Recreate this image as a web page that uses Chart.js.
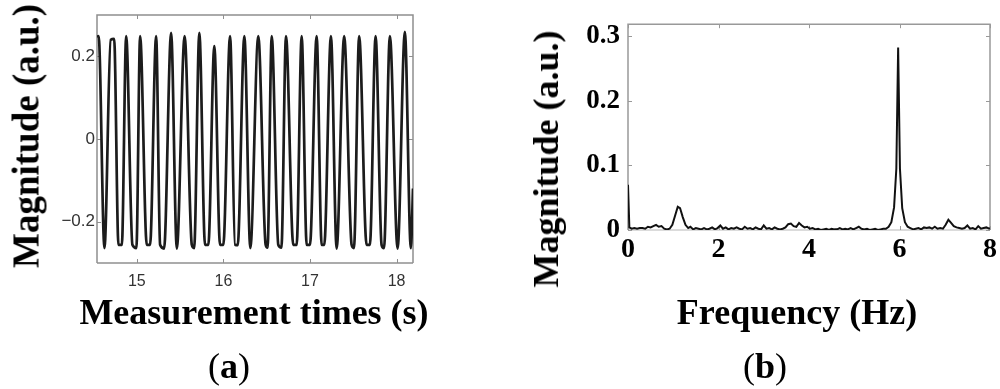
<!DOCTYPE html>
<html>
<head>
<meta charset="utf-8">
<script src="https://cdn.jsdelivr.net/npm/chart.js@4.4.1/dist/chart.umd.min.js"></script>
<style>
  html, body { margin: 0; padding: 0; background: #fff; }
  #page { position: relative; width: 1000px; height: 389px; overflow: hidden; }
  canvas { position: absolute; top: 0; }
  .lbl {
    position: absolute;
    font-family: "Liberation Serif", "Times New Roman", serif;
    font-weight: bold;
    font-size: 36px;
    line-height: 1;
    white-space: nowrap;
    color: #000;
    transform: translate(-50%, -50%);
  }
  .rot { transform: translate(-50%, -50%) rotate(-90deg); }
  .thin { font-weight: normal; }
</style>
</head>
<body>
<div id="page">
  <canvas id="timeChart" width="500" height="389" style="left:0"></canvas>
  <canvas id="freqChart" width="500" height="389" style="left:500px"></canvas>

  <div class="lbl rot" style="left:26px; top:136px; font-size:37px">Magnitude (a.u.)</div>
  <div class="lbl" style="left:254px; top:312px">Measurement times (s)</div>
  <div class="lbl" style="left:229px; top:366px"><span class="thin">(</span>a<span class="thin">)</span></div>

  <div class="lbl rot" style="left:546px; top:159px">Magnitude (a.u.)</div>
  <div class="lbl" style="left:797px; top:312px">Frequency (Hz)</div>
  <div class="lbl" style="left:765px; top:366px"><span class="thin">(</span>b<span class="thin">)</span></div>
</div>

<script>
// ================== DATA ==================
// (a) time signal, peaks and flat troughs
const sigTime = [
  14.540, 14.559, 14.626, 14.698, 14.738, 14.788, 14.827, 14.877, 14.949, 14.995,
  15.038, 15.115, 15.153, 15.223, 15.269, 15.315, 15.396, 15.462, 15.552, 15.635,
  15.662, 15.722, 15.788, 15.826, 15.895, 15.961, 15.999, 16.077, 16.134, 16.165,
  16.242, 16.311, 16.403, 16.488, 16.510, 16.558, 16.634, 16.670, 16.723, 16.807,
  16.846, 16.904, 16.962, 17.000, 17.077, 17.135, 17.165, 17.242, 17.308, 17.395,
  17.481, 17.508, 17.568, 17.654, 17.692, 17.758, 17.827, 17.855, 17.923, 18.012,
  18.096, 18.165, 18.190
];
const sigValue = [
  0.247, 0.249, -0.264, 0.240, 0.242, -0.256, -0.256, 0.249, -0.256, -0.264,
  0.249, -0.256, -0.256, 0.249, -0.256, -0.265, 0.257, -0.265, 0.249, -0.256,
  -0.264, 0.257, -0.256, -0.256, 0.225, -0.256, -0.256, 0.249, -0.256, -0.257,
  0.249, -0.264, 0.249, -0.256, -0.263, 0.249, -0.256, -0.263, 0.249, -0.256,
  -0.256, 0.249, -0.256, -0.256, 0.249, -0.256, -0.256, 0.249, -0.265, 0.249,
  -0.256, -0.264, 0.249, -0.256, -0.256, 0.249, -0.256, -0.264, 0.249, -0.265,
  0.259, -0.264, -0.120
];
const timeTicks = [15, 16, 17, 18];
const sigTicks = [-0.2, 0, 0.2];
const sigTickLabels = ["\u22120.2", "0", "0.2"];

// (b) spectrum
const freq = [
  0.00, 0.03, 0.08, 0.14, 0.20, 0.26, 0.32, 0.38, 0.44, 0.50, 0.56, 0.62, 0.68, 0.74, 0.80,
  0.86, 0.92, 0.98, 1.04, 1.10, 1.15, 1.21, 1.27, 1.33, 1.38, 1.44, 1.50, 1.56, 1.62, 1.68,
  1.74, 1.80, 1.86, 1.92, 1.98, 2.04, 2.10, 2.16, 2.22, 2.28, 2.34, 2.40, 2.46, 2.52, 2.58,
  2.64, 2.70, 2.76, 2.82, 2.88, 2.94, 3.00, 3.06, 3.12, 3.18, 3.24, 3.30, 3.36, 3.42, 3.48,
  3.54, 3.60, 3.66, 3.72, 3.78, 3.84, 3.90, 3.96, 4.02, 4.08, 4.14, 4.20, 4.26, 4.32, 4.38,
  4.44, 4.50, 4.56, 4.62, 4.68, 4.74, 4.80, 4.86, 4.92, 4.98, 5.04, 5.10, 5.16, 5.22, 5.28,
  5.34, 5.40, 5.46, 5.52, 5.58, 5.64, 5.70, 5.76, 5.82, 5.88, 5.93, 5.97, 6.01, 6.06, 6.12,
  6.18, 6.24, 6.30, 6.36, 6.42, 6.48, 6.54, 6.60, 6.66, 6.72, 6.78, 6.84, 6.90, 6.96, 7.02,
  7.08, 7.14, 7.20, 7.26, 7.32, 7.38, 7.44, 7.50, 7.56, 7.62, 7.68, 7.74, 7.80, 7.86, 7.92,
  7.98, 8.00
];
const mag = [
  0.070, 0.004, 0.002, 0.003, 0.002, 0.003, 0.003, 0.002, 0.005, 0.004, 0.006, 0.008, 0.005, 0.006, 0.002,
  0.001, 0.002, 0.008, 0.022, 0.036, 0.034, 0.020, 0.008, 0.003, 0.005, 0.001, 0.003, 0.002, 0.001, 0.003,
  0.001, 0.002, 0.004, 0.001, 0.003, 0.007, 0.002, 0.004, 0.001, 0.003, 0.002, 0.004, 0.002, 0.001, 0.005,
  0.002, 0.003, 0.001, 0.004, 0.002, 0.001, 0.007, 0.002, 0.003, 0.001, 0.004, 0.002, 0.001, 0.002, 0.004,
  0.009, 0.010, 0.006, 0.005, 0.011, 0.007, 0.004, 0.005, 0.002, 0.003, 0.001, 0.002, 0.000, 0.001, 0.002,
  0.000, 0.002, 0.001, 0.001, 0.003, 0.001, 0.002, 0.001, 0.003, 0.001, 0.003, 0.005, 0.002, 0.001, 0.002,
  0.000, 0.001, 0.002, 0.000, 0.001, 0.002, 0.002, 0.005, 0.012, 0.035, 0.095, 0.283, 0.095, 0.034, 0.012,
  0.005, 0.003, 0.001, 0.002, 0.003, 0.001, 0.004, 0.003, 0.004, 0.002, 0.005, 0.002, 0.003, 0.002, 0.008,
  0.016, 0.011, 0.006, 0.004, 0.003, 0.002, 0.003, 0.007, 0.002, 0.003, 0.001, 0.006, 0.002, 0.003, 0.004,
  0.002, 0.003
];
const freqTicks = [0, 2, 4, 6, 8];
const magTicks = [0, 0.1, 0.2, 0.3];
const magTickLabels = ["0", "0.1", "0.2", "0.3"];

// ================== HELPERS ==================
// matlab-ish box with inward tick marks on all four sides
const boxTicks = {
  id: "boxTicks",
  beforeDatasetsDraw(chart, args, opts) {
    const { ctx, chartArea, scales } = chart;
    const { left, right, top, bottom } = chartArea;
    const len = opts.len || 4;
    ctx.save();
    ctx.lineWidth = opts.width || 1.5;
    ctx.strokeStyle = opts.color || "#999";
    ctx.beginPath();
    ctx.moveTo(left, bottom);
    ctx.lineTo(left, top);
    ctx.lineTo(right, top);
    ctx.lineTo(right, bottom);
    ctx.stroke();
    ctx.strokeStyle = opts.bottomColor || ctx.strokeStyle;
    ctx.beginPath();
    ctx.moveTo(left, bottom);
    ctx.lineTo(right, bottom);
    ctx.stroke();

    ctx.strokeStyle = opts.color || "#999";
    ctx.lineWidth = 1;
    ctx.beginPath();
    scales.x.ticks.forEach((t) => {
      const px = Math.round(scales.x.getPixelForValue(t.value)) + 0.5;
      ctx.moveTo(px, bottom);
      ctx.lineTo(px, bottom - len);
      ctx.moveTo(px, top);
      ctx.lineTo(px, top + len);
    });
    scales.y.ticks.forEach((t) => {
      const py = Math.round(scales.y.getPixelForValue(t.value)) + 0.5;
      ctx.moveTo(left, py);
      ctx.lineTo(left + len, py);
      ctx.moveTo(right, py);
      ctx.lineTo(right - len, py);
    });
    ctx.stroke();
    ctx.restore();
  },
};

function fixedTicks(values) {
  return function (scale) {
    scale.ticks = values.map((v) => ({ value: v }));
  };
}

// ================== (a) TIME SIGNAL ==================
new Chart(document.getElementById("timeChart"), {
  type: "line",
  data: {
    datasets: [
      {
        data: sigTime.map((t, i) => ({ x: t, y: sigValue[i] })),
        borderColor: "#1c1c1c",
        borderWidth: 2.7,
        pointRadius: 0,
        fill: false,
        cubicInterpolationMode: "monotone",
        clip: 0,
      },
    ],
  },
  options: {
    responsive: false,
    animation: false,
    devicePixelRatio: 1,
    layout: { padding: { left: 0, right: 87, top: 15, bottom: 0 } },
    plugins: {
      legend: { display: false },
      tooltip: { enabled: false },
      boxTicks: { color: "#8f8f8f", bottomColor: "#8f8f8f", width: 1.5, len: 4 },
    },
    scales: {
      x: {
        type: "linear",
        min: 14.54,
        max: 18.19,
        afterBuildTicks: fixedTicks(timeTicks),
        afterFit: (s) => { s.height = 126; },
        grid: { display: false, drawTicks: false },
        border: { display: false },
        ticks: {
          autoSkip: false,
          maxRotation: 0,
          padding: 9,
          color: "#333",
          font: { family: "'Liberation Sans', Arial, sans-serif", size: 16 },
          callback: (v) => String(v),
        },
      },
      y: {
        min: -0.3,
        max: 0.3,
        afterBuildTicks: fixedTicks(sigTicks),
        afterFit: (s) => { s.width = 97; },
        grid: { display: false, drawTicks: false },
        border: { display: false },
        ticks: {
          padding: 2,
          color: "#333",
          font: { family: "'Liberation Sans', Arial, sans-serif", size: 17 },
          callback: (v) => sigTickLabels[sigTicks.indexOf(v)] ?? "",
        },
      },
    },
  },
  plugins: [boxTicks],
});

// ================== (b) SPECTRUM ==================
new Chart(document.getElementById("freqChart"), {
  type: "line",
  data: {
    datasets: [
      {
        data: freq.map((f, i) => ({ x: f, y: mag[i] })),
        borderColor: "#111",
        borderWidth: 2,
        pointRadius: 0,
        fill: false,
        tension: 0,
        clip: 0,
      },
    ],
  },
  options: {
    responsive: false,
    animation: false,
    devicePixelRatio: 1,
    layout: { padding: { left: 0, right: 9, top: 14, bottom: 0 } },
    plugins: {
      legend: { display: false },
      tooltip: { enabled: false },
      boxTicks: { color: "#999", bottomColor: "#cfcfcf", width: 1.5, len: 4 },
    },
    scales: {
      x: {
        type: "linear",
        min: 0,
        max: 8,
        afterBuildTicks: fixedTicks(freqTicks),
        afterFit: (s) => { s.height = 159; },
        grid: { display: false, drawTicks: false },
        border: { display: false },
        ticks: {
          autoSkip: false,
          maxRotation: 0,
          padding: 3,
          color: "#000",
          font: { family: "'Liberation Serif', 'Times New Roman', serif", size: 28, weight: "bold" },
          callback: (v) => String(v),
        },
      },
      y: {
        min: 0,
        max: 0.319,
        afterBuildTicks: fixedTicks(magTicks),
        afterFit: (s) => { s.width = 128; },
        grid: { display: false, drawTicks: false },
        border: { display: false },
        ticks: {
          padding: 8,
          color: "#000",
          font: { family: "'Liberation Serif', 'Times New Roman', serif", size: 27, weight: "bold" },
          callback: (v) => magTickLabels[magTicks.indexOf(v)] ?? "",
        },
      },
    },
  },
  plugins: [boxTicks],
});
</script>
</body>
</html>
